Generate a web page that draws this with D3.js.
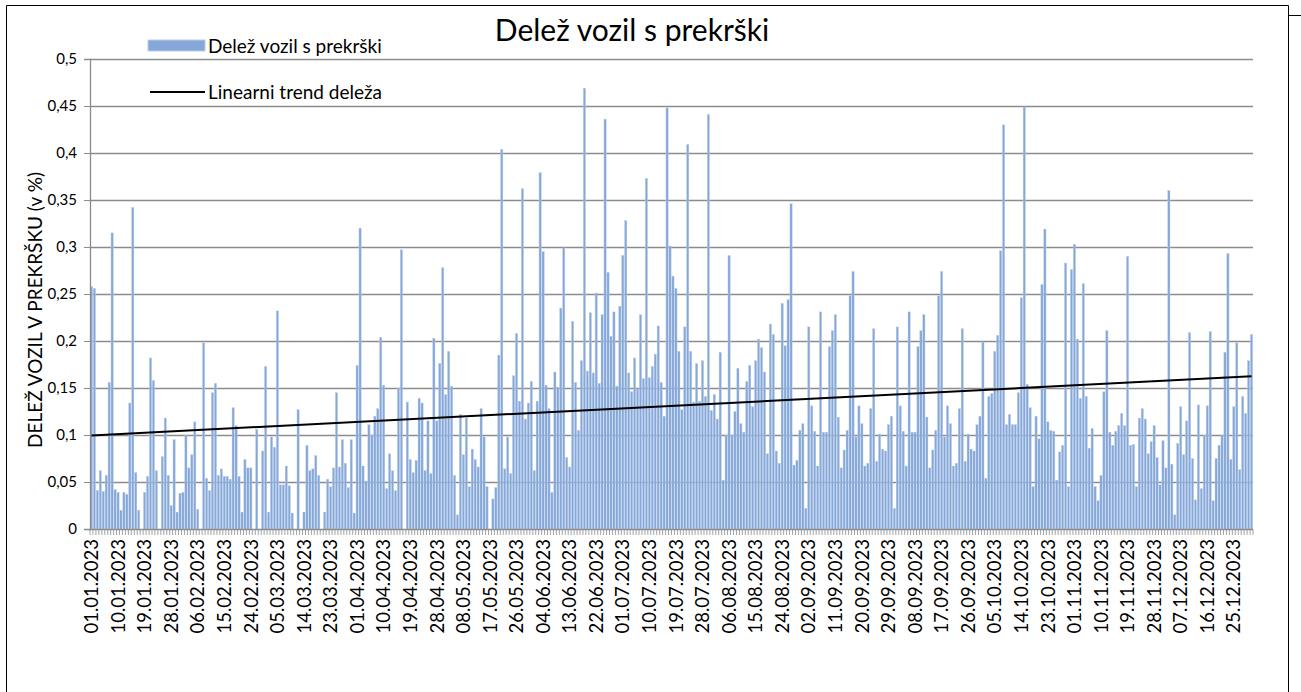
<!DOCTYPE html>
<html><head><meta charset="utf-8">
<script src="https://cdn.jsdelivr.net/npm/d3@7"></script>
<style>
body{margin:0;background:#fff;}
svg{display:block;font-family:Lato,"Noto Sans",sans-serif;}
</style></head><body>
<svg id="c" width="1301" height="692"></svg>
<script>
// daily share of vehicles with violations (category order as in source sheet)
const values = [
0.258,0.256,0.041,0.062,0.040,0.057,0.156,0.315,0.042,0.039,0.020,0.039,0.037,0.134,0.342,0.060,0.020,0,0.039,0.056,0.182,0.158,0.062,0,0.077,0.118,0.057,0.025,0.095,0.018,0.038,0.039,0.100,
0.065,0.079,0.114,0.021,0,0.198,0.054,0.041,0.145,0.155,0.057,0.064,0.056,0.056,0.053,0.129,0.110,0.056,0.018,0.074,0.065,0.065,0,0.106,0,0.083,0.173,0.018,0.098,0.087,0.232,0.047,
0.047,0.067,0.046,0.017,0,0.127,0,0.018,0.089,0.062,0.064,0.078,0.057,0,0.018,0.053,0.045,0.065,0.145,0.066,0.095,0.070,0.044,0.095,0.017,0.174,0.320,0.067,0.051,0.111,0.100,0.120,0.128,0.204,
0.153,0.043,0.080,0.062,0.041,0.150,0.297,0,0.135,0.074,0.060,0.073,0.139,0.134,0.062,0.115,0.059,0.203,0.115,0.176,0.278,0.143,0.189,0.152,0.057,0.015,0.122,0.079,0.118,0.045,0.085,0.074,0.066,
0.128,0.098,0.045,0,0.032,0.044,0.185,0.404,0.064,0.098,0.059,0.163,0.208,0.136,0.362,0.117,0.134,0.157,0.062,0.136,0.379,0.295,0.153,0.128,0.039,0.167,0.151,0.235,0.299,0.076,0.066,0.221,0.156,
0.105,0.179,0.469,0.168,0.230,0.166,0.251,0.155,0.228,0.436,0.273,0.205,0.231,0.152,0.237,0.291,0.328,0.166,0.146,0.182,0.149,0.228,0.160,0.373,0.161,0.173,0.186,0.216,0.156,0.120,0.448,0.301,0.269,
0.256,0.189,0.127,0.215,0.409,0.189,0.135,0.176,0.136,0.179,0.141,0.441,0.126,0.143,0.117,0.188,0.052,0.100,0.291,0.100,0.125,0.171,0.112,0.103,0.157,0.174,0.130,0.179,0.202,0.193,0.167,0.080,0.218,0.207,
0.083,0.070,0.240,0.195,0.244,0.346,0.068,0.073,0.105,0.112,0.022,0.215,0.131,0.104,0.067,0.231,0.103,0.103,0.194,0.211,0.228,0.119,0.065,0.084,0.105,0.248,0.274,0.098,0.131,0.112,0.067,0.070,0.128,
0.213,0.072,0.101,0.085,0.083,0.111,0.120,
0.022,0.215,0.131,0.104,0.067,0.231,0.103,0.103,0.194,0.211,0.228,0.119,0.065,0.084,0.105,0.248,0.274,0.098,0.131,0.112,0.067,0.070,0.128,0.213,0.072,0.101,0.085,0.083,0.111,0.120,
0.199,0.054,0.141,0.144,0.189,0.206,0.296,0.430,0.111,0.122,0.111,0.111,0.145,0.246,0.449,0.154,0.129,0.045,0.120,0.096,0.260,0.319,0.114,0.105,0.104,0.052,0.082,0.089,0.283,
0.045,0.276,0.303,0.202,0.139,0.261,0.141,0.086,0.107,0.045,0.030,0.057,0.146,0.211,0.103,0.089,0.104,0.110,0.123,0.110,0.290,0.089,0.090,0.045,0.118,0.128,0.117,0.080,0.093,0.110,0.076,0.047,0.094,0.065,
0.360,0.069,0.015,0.091,0.130,0.079,0.115,0.209,0.075,0.031,0.132,0.043,0.100,0.131,0.210,0.030,0.075,0.089,0.100,0.188,0.293,0.074,0.130,0.198,0.063,0.141,0.123,0.179,0.207
];
// labels shown every 9th category
const tickLabels = ["01.01.2023","10.01.2023","19.01.2023","28.01.2023","06.02.2023","15.02.2023","24.02.2023","05.03.2023","14.03.2023","23.03.2023","01.04.2023","10.04.2023","19.04.2023","28.04.2023","08.05.2023","17.05.2023","26.05.2023","04.06.2023","13.06.2023","22.06.2023","01.07.2023","10.07.2023","19.07.2023","28.07.2023","06.08.2023","15.08.2023","24.08.2023","02.09.2023","11.09.2023","20.09.2023","29.09.2023","08.09.2023","17.09.2023","26.09.2023","05.10.2023","14.10.2023","23.10.2023","01.11.2023","10.11.2023","19.11.2023","28.11.2023","07.12.2023","16.12.2023","25.12.2023"];
const labelStep = 9;
const yTicks = [0,0.05,0.1,0.15,0.2,0.25,0.3,0.35,0.4,0.45,0.5];
// linear trend line, value at first and last category
const trendEnds = [0.0995,0.1625];

const title = "Delež vozil s prekrški";
const yTitle = "DELEŽ VOZIL V PREKRŠKU (v %)";
const legendBar = "Delež vozil s prekrški";
const legendLine = "Linearni trend deleža";

const svg = d3.select("#c");
const L=90, R=1253, T=59, B=529;
const cats = d3.range(values.length);
const x = d3.scaleBand().domain(cats).range([L,R]).paddingInner(0.25).paddingOuter(0.12);
const xc = d3.scaleBand().domain(cats).range([L,R]);
const y = d3.scaleLinear().domain([0,0.5]).range([B,T]);

// frame
svg.append("path").attr("d","M6.5,692 V5.5 H1288.5 V692 M1288.5,15.5 H1301").attr("fill","none").attr("stroke","#000").attr("stroke-width",1);

// gridlines
svg.append("g").selectAll("line").data(yTicks.slice(1)).join("line")
  .attr("x1",L).attr("x2",R).attr("y1",d=>Math.round(y(d))+0.5).attr("y2",d=>Math.round(y(d))+0.5)
  .attr("stroke","#8c8c8c").attr("stroke-width",1.3);

// bars
svg.append("g").selectAll("rect").data(values).join("rect")
  .attr("x",(d,i)=>x(i)).attr("width",x.bandwidth())
  .attr("y",d=>y(d)).attr("height",d=>B-y(d))
  .attr("fill","#86a8d8").attr("stroke","#b9cdea").attr("stroke-width",0.4);

// y axis
const ya = svg.append("g").attr("transform",`translate(${L},0)`)
  .call(d3.axisLeft(y).tickValues(yTicks).tickSize(6).tickFormat(d=>String(d).replace(".",",")));
ya.select(".domain").attr("stroke","#8c8c8c").attr("stroke-width",1.3);
ya.selectAll(".tick line").attr("stroke","#8c8c8c");
ya.selectAll(".tick text").attr("font-size",15).attr("font-family","Lato").attr("fill","#000").attr("x",-13);

// x axis baseline + ticks every category
svg.append("line").attr("x1",L).attr("x2",R).attr("y1",B+0.5).attr("y2",B+0.5).attr("stroke","#8c8c8c").attr("stroke-width",1.3);
svg.append("g").selectAll("line").data(d3.range(values.length+1)).join("line")
  .attr("x1",i=>L+i*xc.step()).attr("x2",i=>L+i*xc.step()).attr("y1",B).attr("y2",B+6)
  .attr("stroke","#8c8c8c").attr("stroke-width",0.8);

// x labels
svg.append("g").selectAll("text").data(tickLabels).join("text")
  .attr("transform",(d,k)=>`translate(${xc(k*labelStep)+xc.bandwidth()/2},539) rotate(-90)`)
  .attr("text-anchor","end").attr("dy","0.36em").attr("font-size",18.5).attr("fill","#000").text(d=>d);

// trend line
svg.append("line")
  .attr("x1",xc(0)+xc.bandwidth()/2).attr("x2",xc(values.length-1)+xc.bandwidth()/2)
  .attr("y1",y(trendEnds[0])).attr("y2",y(trendEnds[1]))
  .attr("stroke","#000").attr("stroke-width",2);

// title
svg.append("text").attr("x",632).attr("y",41).attr("text-anchor","middle").attr("font-size",30).attr("fill","#000").text(title);

// y title
svg.append("text").attr("transform","translate(42,310) rotate(-90)").attr("text-anchor","middle").attr("font-size",19).attr("fill","#000").text(yTitle);

// legend
svg.append("rect").attr("x",148).attr("y",40).attr("width",57).attr("height",11).attr("fill","#86a8d8").attr("stroke","#b9cdea");
svg.append("text").attr("x",208).attr("y",53).attr("font-size",19).attr("fill","#000").text(legendBar);
svg.append("line").attr("x1",150).attr("x2",205).attr("y1",92).attr("y2",92).attr("stroke","#000").attr("stroke-width",2);
svg.append("text").attr("x",208).attr("y",99).attr("font-size",19).attr("fill","#000").text(legendLine);
</script>
</body></html>
